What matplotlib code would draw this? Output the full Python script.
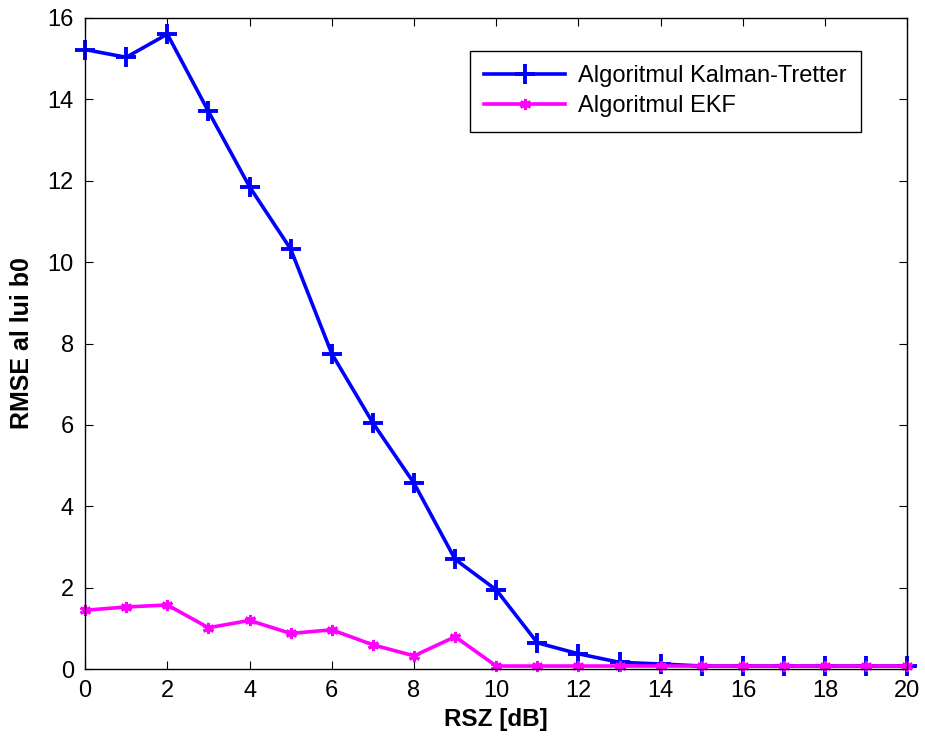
import matplotlib.pyplot as plt

plt.rcParams['font.family'] = ['Liberation Sans', 'DejaVu Sans']

# RSZ values and RMSE of b0 for the two algorithms
rsz = list(range(21))
rmse_kalman = [15.22, 15.03, 15.6, 13.7, 11.85, 10.32, 7.75, 6.05, 4.57, 2.7, 1.95,
               0.65, 0.38, 0.17, 0.13, 0.08, 0.08, 0.08, 0.08, 0.08, 0.08]
rmse_ekf = [1.45, 1.53, 1.58, 1.02, 1.2, 0.88, 0.97, 0.6, 0.33, 0.8, 0.08,
            0.08, 0.08, 0.08, 0.08, 0.08, 0.08, 0.08, 0.08, 0.08, 0.08]

fig = plt.figure(figsize=(9.25, 7.42), dpi=100)
ax = fig.add_axes([0.092, 0.098, 0.889, 0.878])

ax.plot(rsz, rmse_kalman, color='#0000ff', linewidth=2.6, marker='+',
        markersize=14, markeredgewidth=2.8, clip_on=False,
        label='Algoritmul Kalman-Tretter')
ax.plot(rsz, rmse_ekf, color='#ff00ff', linewidth=2.6, marker=(6, 2, 0),
        markersize=8, markeredgewidth=2.2, clip_on=False, label='Algoritmul EKF')

ax.set_xlim(0, 20)
ax.set_ylim(0, 16)
ax.set_xticks(range(0, 21, 2))
ax.set_yticks(range(0, 17, 2))
ax.tick_params(direction='in', top=True, right=True, labelsize=17, length=6, pad=8)
for s in ax.spines.values():
    s.set_linewidth(1.0)

ax.set_xlabel('RSZ [dB]', fontsize=17.5, fontweight='bold', labelpad=4)
ax.set_ylabel('RMSE al lui b0', fontsize=18, fontweight='bold', labelpad=10)

leg = ax.legend(loc='upper right', bbox_to_anchor=(0.943, 0.949), fontsize=17,
                fancybox=False, edgecolor='black', framealpha=1,
                handlelength=3.4, handletextpad=0.55, borderpad=0.6,
                labelspacing=0.35, borderaxespad=0)
leg.get_frame().set_linewidth(1.0)

fig.savefig('out.png', dpi=100)
